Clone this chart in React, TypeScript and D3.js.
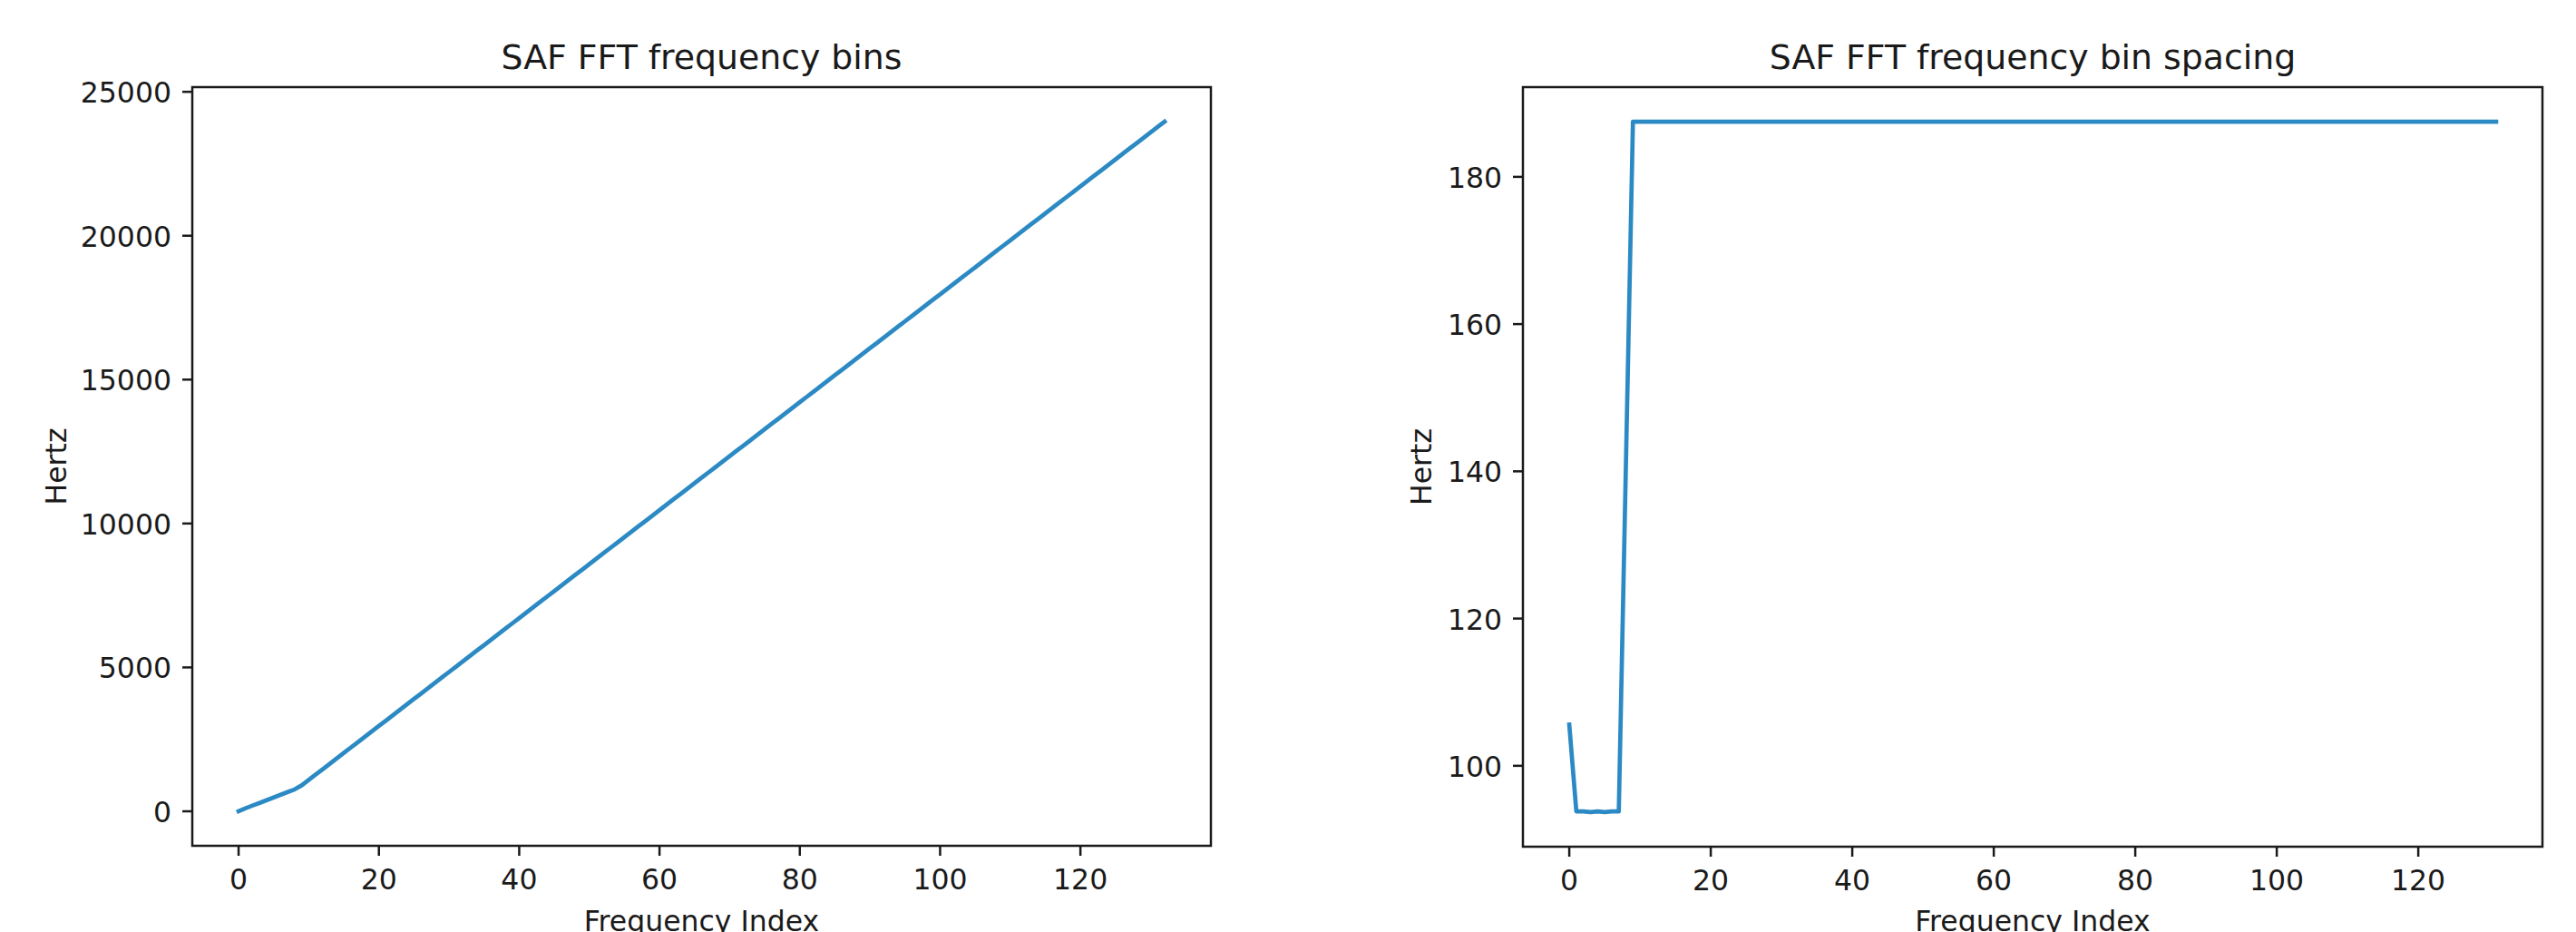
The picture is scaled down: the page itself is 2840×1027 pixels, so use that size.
import { useEffect, useRef } from "react";
import * as d3 from "d3";

// SAF FFT frequency bins (Hz), index 0..132
const freqBins = [
  0, 105.6, 199.4, 293.2, 386.9, 480.7, 574.4, 668.2, 762.0, 902.6,
  1090.1, 1277.6, 1465.1, 1652.6, 1840.1, 2027.6, 2215.1, 2402.6, 2590.1, 2777.6,
  2965.1, 3152.6, 3340.1, 3527.6, 3715.1, 3902.6, 4090.1, 4277.6, 4465.1, 4652.6,
  4840.1, 5027.6, 5215.1, 5402.6, 5590.1, 5777.6, 5965.1, 6152.6, 6340.1, 6527.6,
  6715.1, 6902.6, 7090.1, 7277.6, 7465.1, 7652.6, 7840.1, 8027.6, 8215.1, 8402.6,
  8590.1, 8777.6, 8965.1, 9152.6, 9340.1, 9527.6, 9715.1, 9902.6, 10090.1, 10277.6,
  10465.1, 10652.6, 10840.1, 11027.6, 11215.1, 11402.6, 11590.1, 11777.6, 11965.1, 12152.6,
  12340.1, 12527.6, 12715.1, 12902.6, 13090.1, 13277.6, 13465.1, 13652.6, 13840.1, 14027.6,
  14215.1, 14402.6, 14590.1, 14777.6, 14965.1, 15152.6, 15340.1, 15527.6, 15715.1, 15902.6,
  16090.1, 16277.6, 16465.1, 16652.6, 16840.1, 17027.6, 17215.1, 17402.6, 17590.1, 17777.6,
  17965.1, 18152.6, 18340.1, 18527.6, 18715.1, 18902.6, 19090.1, 19277.6, 19465.1, 19652.6,
  19840.1, 20027.6, 20215.1, 20402.6, 20590.1, 20777.6, 20965.1, 21152.6, 21340.1, 21527.6,
  21715.1, 21902.6, 22090.1, 22277.6, 22465.1, 22652.6, 22840.1, 23027.6, 23215.1, 23402.6,
  23590.1, 23777.6, 23965.1,
];

// spacing between consecutive bins (Hz), index 0..131
const binSpacing = [
  105.6, 93.8, 93.8, 93.7, 93.8, 93.7, 93.8, 93.8, 140.6,
  187.5, 187.5, 187.5, 187.5, 187.5, 187.5, 187.5, 187.5, 187.5, 187.5,
  187.5, 187.5, 187.5, 187.5, 187.5, 187.5, 187.5, 187.5, 187.5, 187.5,
  187.5, 187.5, 187.5, 187.5, 187.5, 187.5, 187.5, 187.5, 187.5, 187.5,
  187.5, 187.5, 187.5, 187.5, 187.5, 187.5, 187.5, 187.5, 187.5, 187.5,
  187.5, 187.5, 187.5, 187.5, 187.5, 187.5, 187.5, 187.5, 187.5, 187.5,
  187.5, 187.5, 187.5, 187.5, 187.5, 187.5, 187.5, 187.5, 187.5, 187.5,
  187.5, 187.5, 187.5, 187.5, 187.5, 187.5, 187.5, 187.5, 187.5, 187.5,
  187.5, 187.5, 187.5, 187.5, 187.5, 187.5, 187.5, 187.5, 187.5, 187.5,
  187.5, 187.5, 187.5, 187.5, 187.5, 187.5, 187.5, 187.5, 187.5, 187.5,
  187.5, 187.5, 187.5, 187.5, 187.5, 187.5, 187.5, 187.5, 187.5, 187.5,
  187.5, 187.5, 187.5, 187.5, 187.5, 187.5, 187.5, 187.5, 187.5, 187.5,
  187.5, 187.5, 187.5, 187.5, 187.5, 187.5, 187.5, 187.5, 187.5, 187.5,
  187.5, 187.5, 187.5,
];

const indexTicks = [0, 20, 40, 60, 80, 100, 120];
const binTicksY = [0, 5000, 10000, 15000, 20000, 25000];
const spacingTicksY = [100, 120, 140, 160, 180];

const FONT = "DejaVu Sans";
const LINE_COLOR = "#2b89c3";
const INK = "#1a1a1a";

type Panel = {
  left: number;
  right: number;
  top: number;
  bottom: number;
  values: number[];
  yTicks: number[];
  title: string;
  yLabelX: number;
  id: string;
};

function drawPanel(svg: d3.Selection<SVGSVGElement, unknown, null, undefined>, p: Panel) {
  // matplotlib-style 5% margins around the data
  const xMax = p.values.length - 1;
  const [yMin, yMax] = d3.extent(p.values) as [number, number];
  const xPad = xMax * 0.05;
  const yPad = (yMax - yMin) * 0.05;

  const x = d3.scaleLinear().domain([-xPad, xMax + xPad]).range([p.left, p.right]);
  const y = d3.scaleLinear().domain([yMin - yPad, yMax + yPad]).range([p.bottom, p.top]);

  const g = svg.append("g");

  g.append("clipPath")
    .attr("id", p.id)
    .append("rect")
    .attr("x", p.left)
    .attr("y", p.top)
    .attr("width", p.right - p.left)
    .attr("height", p.bottom - p.top);

  const line = d3
    .line<number>()
    .x((_, i) => x(i))
    .y((d) => y(d));

  g.append("path")
    .datum(p.values)
    .attr("clip-path", `url(#${p.id})`)
    .attr("fill", "none")
    .attr("stroke", LINE_COLOR)
    .attr("stroke-width", 4.7)
    .attr("stroke-linejoin", "round")
    .attr("stroke-linecap", "square")
    .attr("d", line);

  // spines
  g.append("rect")
    .attr("x", p.left)
    .attr("y", p.top)
    .attr("width", p.right - p.left)
    .attr("height", p.bottom - p.top)
    .attr("fill", "none")
    .attr("stroke", INK)
    .attr("stroke-width", 2.5);

  // x ticks
  indexTicks.forEach((t) => {
    g.append("line")
      .attr("x1", x(t))
      .attr("x2", x(t))
      .attr("y1", p.bottom)
      .attr("y2", p.bottom + 11)
      .attr("stroke", INK)
      .attr("stroke-width", 2.5);
    g.append("text")
      .attr("x", x(t))
      .attr("y", p.bottom + 48)
      .attr("text-anchor", "middle")
      .attr("font-family", FONT)
      .attr("font-size", 31.5)
      .attr("fill", INK)
      .text(t);
  });

  // y ticks
  p.yTicks.forEach((t) => {
    g.append("line")
      .attr("x1", p.left)
      .attr("x2", p.left - 11)
      .attr("y1", y(t))
      .attr("y2", y(t))
      .attr("stroke", INK)
      .attr("stroke-width", 2.5);
    g.append("text")
      .attr("x", p.left - 23)
      .attr("y", y(t) + 12)
      .attr("text-anchor", "end")
      .attr("font-family", FONT)
      .attr("font-size", 31.5)
      .attr("fill", INK)
      .text(t);
  });

  // title
  g.append("text")
    .attr("x", (p.left + p.right) / 2)
    .attr("y", 76)
    .attr("text-anchor", "middle")
    .attr("font-family", FONT)
    .attr("font-size", 37.8)
    .attr("fill", INK)
    .text(p.title);

  // axis labels
  g.append("text")
    .attr("x", (p.left + p.right) / 2)
    .attr("y", 1026)
    .attr("text-anchor", "middle")
    .attr("font-family", FONT)
    .attr("font-size", 31.5)
    .attr("fill", INK)
    .text("Frequency Index");

  const midY = (p.top + p.bottom) / 2;
  g.append("text")
    .attr("transform", `translate(${p.yLabelX},${midY}) rotate(-90)`)
    .attr("text-anchor", "middle")
    .attr("font-family", FONT)
    .attr("font-size", 31.5)
    .attr("fill", INK)
    .text("Hertz");
}

const App = () => {
  const svgRef = useRef<SVGSVGElement>(null);

  useEffect(() => {
    const svg = d3.select(svgRef.current!);
    svg.selectAll("*").remove();

    svg.append("rect").attr("width", 2840).attr("height", 1027).attr("fill", "#ffffff");

    drawPanel(svg, {
      left: 212,
      right: 1335,
      top: 96,
      bottom: 932,
      values: freqBins,
      yTicks: binTicksY,
      title: "SAF FFT frequency bins",
      yLabelX: 73,
      id: "clip-bins",
    });

    drawPanel(svg, {
      left: 1679,
      right: 2803,
      top: 96,
      bottom: 933,
      values: binSpacing,
      yTicks: spacingTicksY,
      title: "SAF FFT frequency bin spacing",
      yLabelX: 1578,
      id: "clip-spacing",
    });
  }, []);

  return (
    <svg
      ref={svgRef}
      width={2840}
      height={1027}
      style={{ position: "absolute", left: 0, top: 0, display: "block" }}
    />
  );
};

export default App;
